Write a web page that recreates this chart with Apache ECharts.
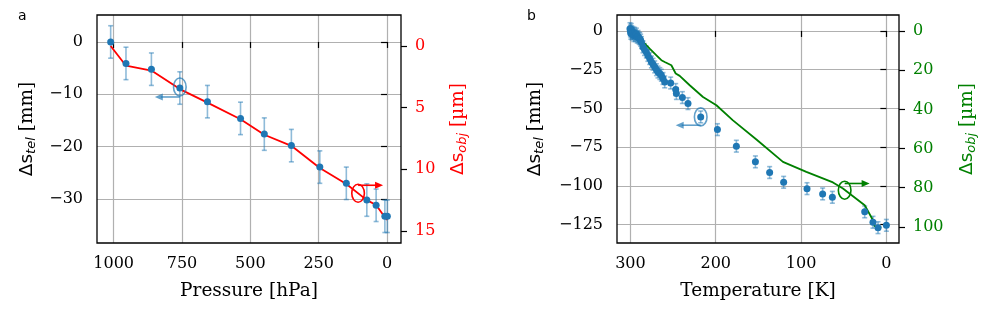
<!DOCTYPE html>
<html>
<head>
<meta charset="utf-8">
<script src="https://cdn.jsdelivr.net/npm/echarts@6/dist/echarts.min.js"></script>
<style>
  html, body { margin: 0; padding: 0; background: #ffffff; }
  #chart { width: 996px; height: 321px; }
</style>
</head>
<body>
<div id="chart"></div>
<script>
    // panel a: pressure scan
    var pressure = [1011, 955, 862, 758, 657, 536, 449, 350, 246, 149, 74, 40, 8, -1];
    var dsTelA = [0, -4.1, -5.2, -8.8, -11.4, -14.6, -17.6, -19.8, -23.9, -27.0, -30.2, -31.2, -33.3, -33.3];
    var errA = [3.1, 3.1, 3.1, 3.1, 3.1, 3.1, 3.1, 3.1, 3.1, 3.1, 3.1, 3.1, 3.1, 3.1];
    var dsObjA = [0, 1.6, 2.0, 3.5, 4.6, 5.95, 7.2, 8.1, 9.9, 11.2, 12.5, 12.9, 13.9, 14.1];

    // panel b: temperature scan
    var tempB = [300.5, 300, 299.5, 299, 298.5, 298, 297, 296, 295, 294, 293, 292, 291, 290, 289, 288, 287,
        285.2, 283.5, 281.3, 279.5, 277.4, 275.4, 273.5, 271.5, 269.5, 267.7, 265.5, 263.7, 261.8, 259.8,
        252.8, 246.9, 246.1, 239.1, 232.5, 217.6, 198, 175.8, 153.5, 136.8, 120.4, 93, 74.7, 63.3,
        25.4, 15.7, 9.8, 0];
    var dsTelB = [1.5, 0, -1.5, 1, -0.5, -2, -1, -3, -1.5, -3, -2, -4, -3.5, -4.5, -5, -6, -7.5,
        -10.3, -12, -13.6, -15.8, -17.8, -20, -21.5, -23.2, -25, -26.5, -27.5, -28.6, -30.7, -32.9,
        -33.6, -37.8, -40.4, -43, -46.9, -55.5, -63.7, -74.4, -84.5, -91.4, -97.7, -101.8, -105.2, -107.4,
        -116.8, -123.5, -127, -125.5];
    var errB = 3.8;
    var tempG = [300, 296, 292, 288, 285.2, 277.4, 269.5, 263.7, 259.8, 252, 246.9, 242.2, 230.5, 214.9,
        199.2, 179.8, 152.3, 121.2, 93.8, 62.6, 50.9, 25.4, 15.7, 13.7, 5.9];
    var dsObjB = [0, 0.8, 2, 3.8, 5.6, 9.0, 12.4, 14.9, 15.8, 17.5, 21.7, 22.9, 27.7, 33.7,
        37.9, 45.6, 55.4, 66.8, 71.9, 77.3, 80.4, 88.9, 96.6, 99.6, 100.3];

    var ticksPressure = [1000, 750, 500, 250, 0];
    var ticksTelA = [-30, -20, -10, 0];
    var ticksObjA = [0, 5, 10, 15];
    var ticksTemp = [300, 200, 100, 0];
    var ticksTelB = [-125, -100, -75, -50, -25, 0];
    var ticksObjB = [0, 20, 40, 60, 80, 100];

    var blue = '#1f77b4';
    var serif = 'DejaVu Serif';
    var sans = 'DejaVu Sans';

    function pairs(xs, ys) {
        return xs.map(function (x, i) { return [x, ys[i]]; });
    }
    function errData(xs, ys, err) {
        return xs.map(function (x, i) {
            var e = Array.isArray(err) ? err[i] : err;
            return [x, ys[i] - e, ys[i] + e];
        });
    }
    function fmt(v) {
        return String(v).replace('-', '\u2212');
    }
    function errRender(params, api) {
        var p1 = api.coord([api.value(0), api.value(1)]);
        var p2 = api.coord([api.value(0), api.value(2)]);
        var st = { stroke: 'rgba(31,119,180,0.5)', lineWidth: 1.6 };
        var w = 2.5;
        return {
            type: 'group',
            children: [
                { type: 'line', shape: { x1: p1[0], y1: p1[1], x2: p2[0], y2: p2[1] }, style: st },
                { type: 'line', shape: { x1: p1[0] - w, y1: p1[1], x2: p1[0] + w, y2: p1[1] }, style: st },
                { type: 'line', shape: { x1: p2[0] - w, y1: p2[1], x2: p2[0] + w, y2: p2[1] }, style: st }
            ]
        };
    }

    function xAx(grid, min, max, ticks, name) {
        return {
            gridIndex: grid, type: 'value', inverse: true, min: min, max: max,
            name: name, nameLocation: 'middle', nameGap: 39,
            nameTextStyle: { fontFamily: serif, fontSize: 18.5, color: '#000' },
            axisLine: { show: false },
            axisTick: { show: true, length: 6, customValues: ticks, lineStyle: { color: '#000', width: 1.2 } },
            axisLabel: { customValues: ticks, margin: 13, fontFamily: serif, fontSize: 16, color: '#000', formatter: fmt },
            splitLine: { show: true, lineStyle: { color: '#b0b0b0', width: 1.2 } }
        };
    }
    function yAx(grid, pos, min, max, ticks, inv, color, sub, unit, gap, grid_lines) {
        return {
            gridIndex: grid, type: 'value', position: pos, inverse: inv, min: min, max: max,
            name: '{d|Δs}{s|' + sub + '}{u| [' + unit + ']}',
            nameLocation: 'middle', nameGap: gap, nameRotate: 90,
            nameTextStyle: {
                color: color,
                rich: {
                    d: { fontFamily: sans, fontSize: 18.5, color: color },
                    s: { fontFamily: sans, fontSize: 13, fontStyle: 'italic', color: color, padding: [8, 0, 0, 0] },
                    u: { fontFamily: serif, fontSize: 18.5, color: color }
                }
            },
            axisLine: { show: false },
            axisTick: { show: true, length: 6, customValues: ticks, lineStyle: { color: '#000', width: 1.2 } },
            axisLabel: { customValues: ticks, margin: 14, fontFamily: serif, fontSize: 16, color: color, formatter: fmt },
            splitLine: { show: grid_lines, lineStyle: { color: '#b0b0b0', width: 1.2 } }
        };
    }

    var chart = echarts.init(document.getElementById('chart'), null, { renderer: 'canvas' });

    chart.setOption({
        animation: false,
        backgroundColor: '#ffffff',
        grid: [
            { left: 97, top: 15, width: 304, height: 228, show: true, borderColor: '#000', borderWidth: 1.3, backgroundColor: 'transparent', z: 5 },
            { left: 617, top: 15, width: 282, height: 228, show: true, borderColor: '#000', borderWidth: 1.3, backgroundColor: 'transparent', z: 5 }
        ],
        xAxis: [
            xAx(0, -51, 1061, ticksPressure, 'Pressure [hPa]'),
            xAx(1, -14.8, 315.7, ticksTemp, 'Temperature [K]')
        ],
        yAxis: [
            yAx(0, 'left', -38.4, 5.15, ticksTelA, false, '#000', 'tel', 'mm', 59, true),
            yAx(0, 'right', -2.51, 15.98, ticksObjA, true, '#ff0000', 'obj', 'µm', 47, false),
            yAx(1, 'left', -136.9, 10.3, ticksTelB, false, '#000', 'tel', 'mm', 71, true),
            yAx(1, 'right', -8.16, 108.2, ticksObjB, true, '#008000', 'obj', 'µm', 58, false)
        ],
        series: [
            {
                type: 'custom', xAxisIndex: 0, yAxisIndex: 0, z: 2,
                renderItem: errRender, data: errData(pressure, dsTelA, errA)
            },
            {
                type: 'line', xAxisIndex: 0, yAxisIndex: 1, z: 3, showSymbol: false,
                lineStyle: { color: '#ff0000', width: 1.8 }, data: pairs(pressure, dsObjA)
            },
            {
                type: 'scatter', xAxisIndex: 0, yAxisIndex: 0, z: 4, symbolSize: 7,
                itemStyle: { color: blue, opacity: 1 }, data: pairs(pressure, dsTelA)
            },
            {
                type: 'custom', xAxisIndex: 1, yAxisIndex: 2, z: 2,
                renderItem: errRender, data: errData(tempB, dsTelB, errB)
            },
            {
                type: 'line', xAxisIndex: 1, yAxisIndex: 3, z: 3, showSymbol: false,
                lineStyle: { color: '#008000', width: 1.8 }, data: pairs(tempG, dsObjB)
            },
            {
                type: 'scatter', xAxisIndex: 1, yAxisIndex: 2, z: 4, symbolSize: 7,
                itemStyle: { color: blue, opacity: 1 }, data: pairs(tempB, dsTelB)
            }
        ]
    });

    // annotation: ellipse round a point plus arrow pointing at its axis
    function marker(axes, at, color, dy, dx) {
        var c = chart.convertToPixel(axes, at);
        var ay = c[1] + dy;
        var tip = c[0] + dx;
        var dir = dx < 0 ? -1 : 1;
        var st = { stroke: color, lineWidth: 1.6, fill: null };
        return [
            { type: 'ellipse', shape: { cx: c[0], cy: c[1], rx: 6.3, ry: 9 }, style: st, z: 10 },
            { type: 'line', shape: { x1: c[0], y1: ay, x2: tip - dir * 6, y2: ay }, style: st, z: 10 },
            { type: 'polygon', shape: { points: [[tip, ay], [tip - dir * 8, ay - 3.5], [tip - dir * 8, ay + 3.5]] },
              style: { fill: color, stroke: null }, z: 10 }
        ];
    }

    var g = [];
    g = g.concat(marker({ xAxisIndex: 0, yAxisIndex: 0 }, [758, -8.6], 'rgba(31,119,180,0.7)', 10, -25));
    g = g.concat(marker({ xAxisIndex: 0, yAxisIndex: 0 }, [106, -28.9], '#ff0000', -8, 25));
    g = g.concat(marker({ xAxisIndex: 1, yAxisIndex: 2 }, [217.6, -55.5], 'rgba(31,119,180,0.7)', 8.3, -25));
    g = g.concat(marker({ xAxisIndex: 1, yAxisIndex: 2 }, [48.9, -102.8], '#008000', -6.7, 25));
    g.push({ type: 'text', left: 18, top: 9, style: { text: 'a', font: '14px "DejaVu Sans"', fill: '#000' } });
    g.push({ type: 'text', left: 527, top: 9, style: { text: 'b', font: '14px "DejaVu Sans"', fill: '#000' } });

    chart.setOption({ graphic: g });
</script>
</body>
</html>
